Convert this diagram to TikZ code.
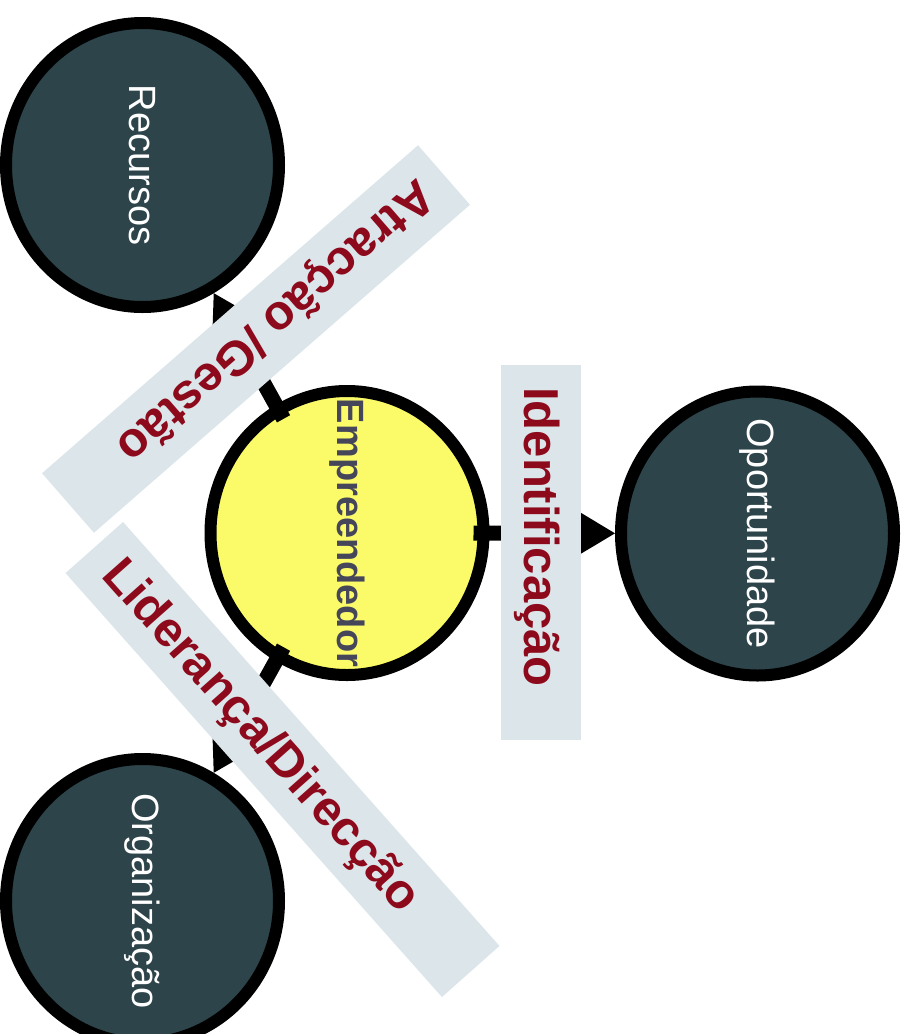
\documentclass[tikz,border=0pt]{standalone}
\usepackage{fontspec}
\setmainfont{Liberation Sans}
\usepackage{tikz}
\usetikzlibrary{arrows.meta,shapes.geometric}

\definecolor{slate}{RGB}{44,68,74}
\definecolor{sun}{RGB}{251,251,106}
\definecolor{mist}{RGB}{220,230,234}
\definecolor{wine}{RGB}{140,10,28}
\definecolor{ink}{RGB}{70,70,90}
\newcommand{\slim}[1]{\makebox[0pt]{#1}}

\begin{document}
\begin{tikzpicture}[x=1pt,y=-1pt]
    \useasboundingbox (0,0) rectangle (907,1034);

        \begin{scope}[every node/.style={ellipse,draw=black,line width=12pt,rotate=-90,
                minimum width=284pt,minimum height=273pt,inner sep=0pt,
                fill=slate,text=white,font=\fontsize{38}{40}\selectfont}]
            \node (rec) at (142.5,165) {\slim{Recursos}};
            \node[fill=sun,text=ink,font=\fontsize{38}{40}\selectfont\bfseries] (emp) at (347,533) {\slim{Empreendedor}};
            \node (opo) at (757.5,533.5) {\slim{Oportunidade}};
            \node (org) at (142.5,901) {\slim{Organização}};
        \end{scope}

        \begin{scope}[line width=15pt,shorten <=-16pt,
            >={Triangle[length=40pt,width=48pt,line width=0pt]}]
            \path [->] (emp) edge (rec);
            \path [->] (emp) edge (opo);
            \path [->] (emp) edge (org);
        \end{scope}

        \begin{scope}[every node/.style={fill=mist,inner sep=0pt}]
            \node[minimum width=499pt,minimum height=79pt,rotate=41.1] (boxrec) at (256,339) {};
            \node[minimum width=375pt,minimum height=80pt,rotate=-90] (boxopo) at (541,552.5) {};
            \node[minimum width=567pt,minimum height=77pt,rotate=-48.4] (boxorg) at (282.5,759.5) {};
        \end{scope}

        \begin{scope}[every node/.style={text=wine,inner sep=0pt,
            font=\fontsize{49}{50}\selectfont\bfseries}]
            \node[rotate=221.1] (labrec) at (274,320) {Atracção /Gestão};
            \node[rotate=-90] (labopo) at (537,537) {Identificação};
            \node[rotate=-48.4] (laborg) at (260,737) {Liderança/Direcção};
        \end{scope}
    \end{tikzpicture}
\end{document}
